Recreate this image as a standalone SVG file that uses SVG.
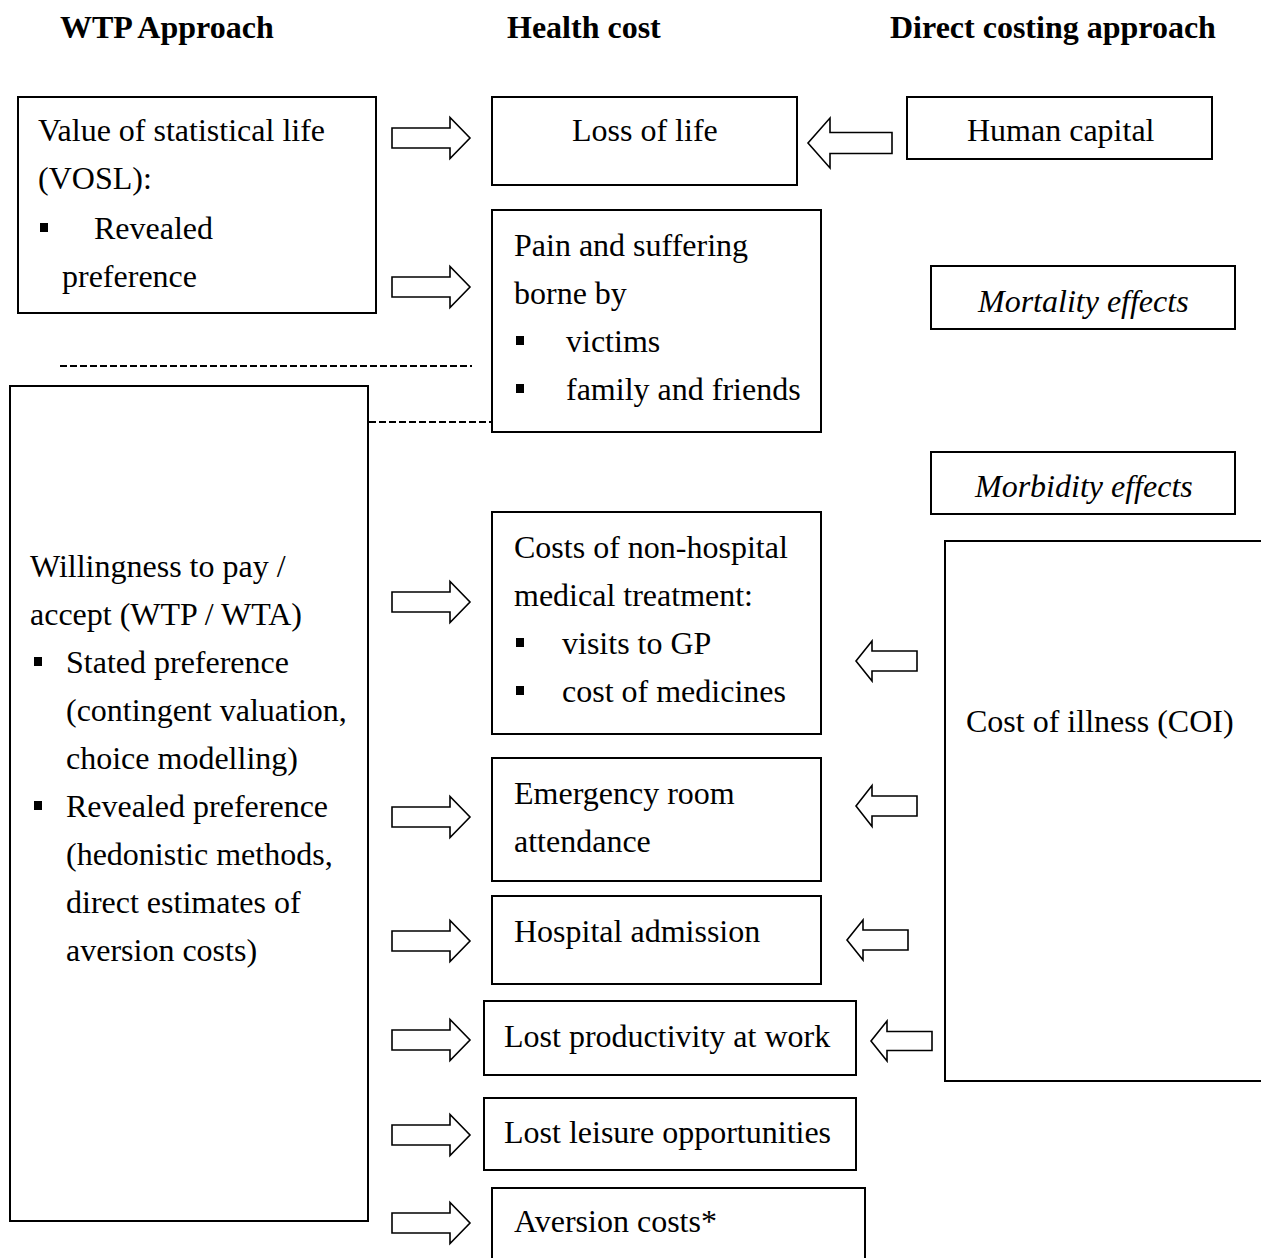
<svg xmlns="http://www.w3.org/2000/svg" width="1261" height="1258" viewBox="0 0 1261 1258">
<style>
text{font-family:"Liberation Serif","Times New Roman",serif;font-size:32px;fill:#000}
.h{font-weight:bold}
.i{font-style:italic}
.box{fill:#fff;stroke:#000;stroke-width:2}
.arr{fill:#fff;stroke:#000;stroke-width:1.6;stroke-linejoin:miter}
.dash{stroke:#000;stroke-width:2;stroke-dasharray:7 3;fill:none}
</style>
<rect width="1261" height="1258" fill="#fff"/>
<g id="headers">
<text class="h" x="60" y="38">WTP Approach</text>
<text class="h" x="507" y="38">Health cost</text>
<text class="h" x="890" y="38">Direct costing approach</text>
</g>
<g id="vosl">
<rect class="box" x="18" y="97" width="358" height="216"/>
<text x="38" y="141">Value of statistical life</text>
<text x="38" y="189">(VOSL):</text>
<rect x="40" y="223" width="8" height="9"/>
<text x="94" y="239">Revealed</text>
<text x="62" y="287">preference</text>
</g>
<g id="wtp">
<rect class="box" x="10" y="386" width="358" height="835"/>
<text x="30" y="577">Willingness to pay /</text>
<text x="30" y="625">accept (WTP / WTA)</text>
<rect x="34" y="657" width="8" height="9"/>
<text x="66" y="673">Stated preference</text>
<text x="66" y="721">(contingent valuation,</text>
<text x="66" y="769">choice modelling)</text>
<rect x="34" y="801" width="8" height="9"/>
<text x="66" y="817">Revealed preference</text>
<text x="66" y="865">(hedonistic methods,</text>
<text x="66" y="913">direct estimates of</text>
<text x="66" y="961">aversion costs)</text>
</g>
<g id="lossoflife">
<rect class="box" x="492" y="97" width="305" height="88"/>
<text x="572" y="141">Loss of life</text>
</g>
<g id="humancapital">
<rect class="box" x="907" y="97" width="305" height="62"/>
<text x="967" y="141">Human capital</text>
</g>
<g id="pain">
<rect class="box" x="492" y="210" width="329" height="222"/>
<text x="514" y="256">Pain and suffering</text>
<text x="514" y="304">borne by</text>
<rect x="516" y="336" width="8" height="9"/>
<text x="566" y="352">victims</text>
<rect x="516" y="384" width="8" height="9"/>
<text x="566" y="400">family and friends</text>
</g>
<g id="mortality">
<rect class="box" x="931" y="266" width="304" height="63"/>
<text class="i" x="978" y="312">Mortality effects</text>
</g>
<g id="morbidity">
<rect class="box" x="931" y="452" width="304" height="62"/>
<text class="i" x="975" y="497">Morbidity effects</text>
</g>
<g id="nonhospital">
<rect class="box" x="492" y="512" width="329" height="222"/>
<text x="514" y="558">Costs of non-hospital</text>
<text x="514" y="606">medical treatment:</text>
<rect x="516" y="638" width="8" height="9"/>
<text x="562" y="654">visits to GP</text>
<rect x="516" y="686" width="8" height="9"/>
<text x="562" y="702">cost of medicines</text>
</g>
<g id="coi">
<rect class="box" x="945" y="541" width="330" height="540"/>
<text x="966" y="732">Cost of illness (COI)</text>
</g>
<g id="emergency">
<rect class="box" x="492" y="758" width="329" height="123"/>
<text x="514" y="804">Emergency room</text>
<text x="514" y="852">attendance</text>
</g>
<g id="hospital">
<rect class="box" x="492" y="896" width="329" height="88"/>
<text x="514" y="942">Hospital admission</text>
</g>
<g id="productivity">
<rect class="box" x="484" y="1001" width="372" height="74"/>
<text x="504" y="1047">Lost productivity at work</text>
</g>
<g id="leisure">
<rect class="box" x="484" y="1098" width="372" height="72"/>
<text x="504" y="1143">Lost leisure opportunities</text>
</g>
<g id="aversion">
<rect class="box" x="492" y="1188" width="373" height="90"/>
<text x="514" y="1232">Aversion costs*</text>
</g>
<g id="connectors">
<line class="dash" x1="60" y1="366" x2="472" y2="366"/>
<line class="dash" x1="369" y1="422" x2="491" y2="422"/>
<path class="arr" d="M392,128H450V117.5L470,138L450,158.5V148H392Z"/>
<path class="arr" d="M392,277H450V266.5L470,287L450,307.5V297H392Z"/>
<path class="arr" d="M392,592H450V581.5L470,602L450,622.5V612H392Z"/>
<path class="arr" d="M392,807H450V796.5L470,817L450,837.5V827H392Z"/>
<path class="arr" d="M392,931H450V920.5L470,941L450,961.5V951H392Z"/>
<path class="arr" d="M392,1030H450V1019.5L470,1040L450,1060.5V1050H392Z"/>
<path class="arr" d="M392,1125H450V1114.5L470,1135L450,1155.5V1145H392Z"/>
<path class="arr" d="M392,1213H450V1202.5L470,1223L450,1243.5V1233H392Z"/>
<path class="arr" d="M892,132.5H830V118L808,143L830,168V153.5H892Z"/>
<path class="arr" d="M917,651H872V641L856,661L872,681V671H917Z"/>
<path class="arr" d="M917,796H872V785.5L856,806L872,826.5V816H917Z"/>
<path class="arr" d="M908,930H863V920L847,940L863,960V950H908Z"/>
<path class="arr" d="M932,1031.5H887V1021L871,1041L887,1061V1050.5H932Z"/>
</g>
</svg>
